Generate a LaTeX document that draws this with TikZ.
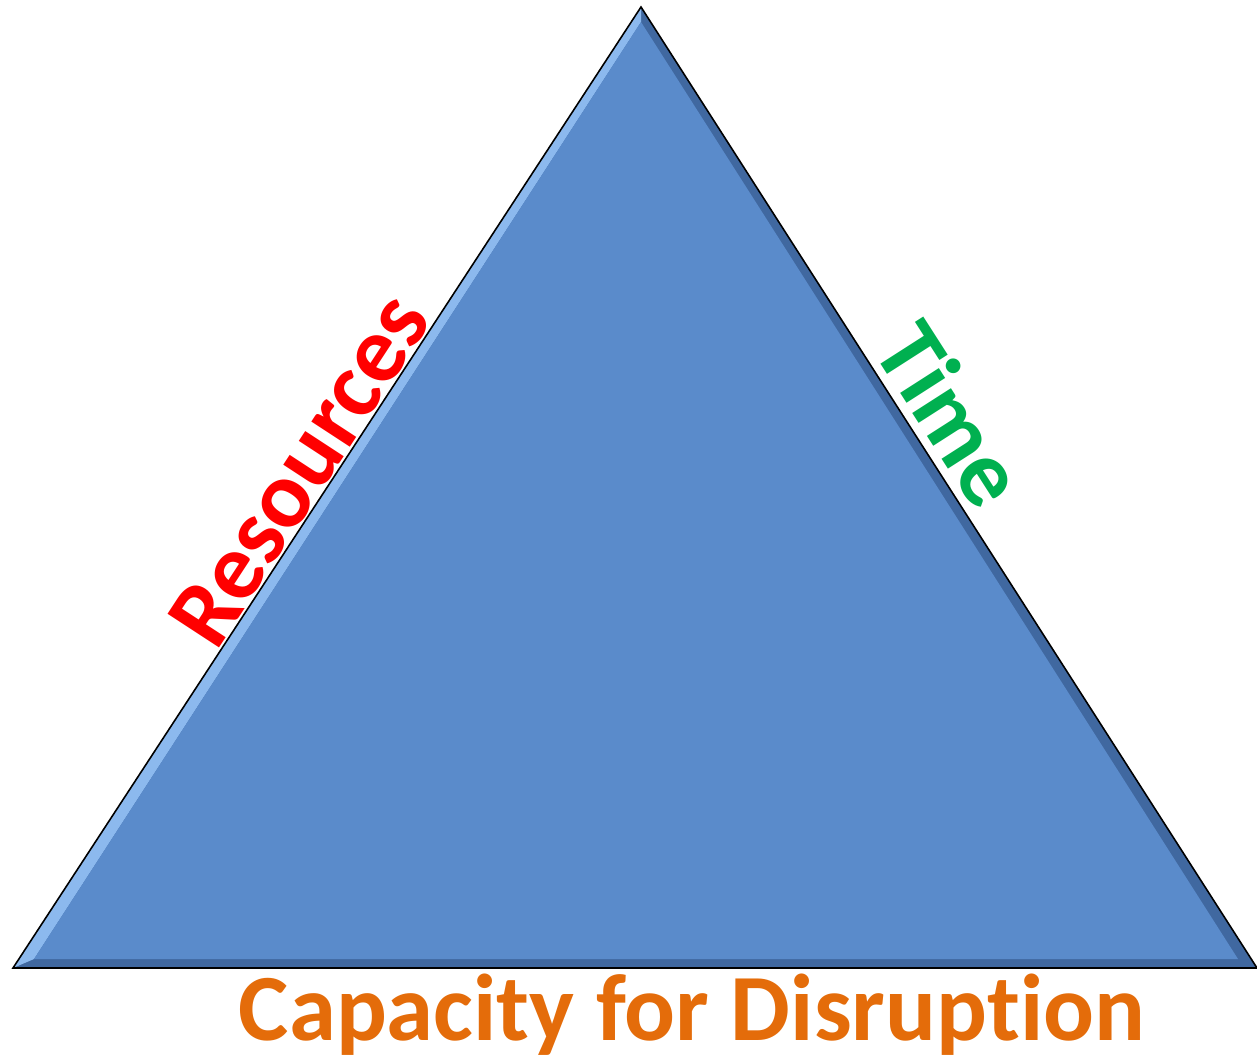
\documentclass[tikz,border=0pt]{standalone}
\usepackage{fontspec}
\setmainfont[Ligatures=NoCommon]{Carlito}
\usepackage{tikz}
\usetikzlibrary{positioning}
\definecolor{triblue}{RGB}{90,139,203}
\definecolor{trilight}{RGB}{140,185,238}
\definecolor{tridark}{RGB}{64,104,160}
\definecolor{resred}{RGB}{255,0,0}
\definecolor{timegreen}{RGB}{0,176,80}
\definecolor{caporange}{RGB}{228,108,10}

\tikzset{
  sidelabel/.style={font=\bfseries\fontsize{54}{60}\selectfont, inner sep=1pt},
}

\begin{document}
\begin{tikzpicture}[x=0.02cm, y=-0.02cm]
  \useasboundingbox (0,0) rectangle (1257,1061);

  % Corners
  \coordinate (top) at (641,7);
  \coordinate (bl) at (13,968);
  \coordinate (br) at (1257,968);
  \coordinate (itop) at (641,22);
  \coordinate (ibl) at (34,959);
  \coordinate (ibr) at (1238,959);

  % Bevelled triangle
  \fill[tridark] (top) -- (bl) -- (br) -- cycle;
  \fill[trilight] (top) -- (bl) -- (ibl) -- (itop) -- cycle;
  \fill[triblue] (itop) -- (ibl) -- (ibr) -- cycle;
  \draw[black, line width=0.9pt, line join=miter] (top) -- (bl) -- (br) -- cycle;

  % Side labels
  \path (bl) -- node[sidelabel, sloped, above, pos=0.50, text=resred] (res) {Resources} (top);
  \path (top) -- node[sidelabel, sloped, above, pos=0.447, inner sep=5pt, text=timegreen] (time) {Time} (br);

  % Base label
  \node[sidelabel, anchor=base, text=caporange] (cap) at (692,1040) {Capacity for Disruption};
\end{tikzpicture}
\end{document}
